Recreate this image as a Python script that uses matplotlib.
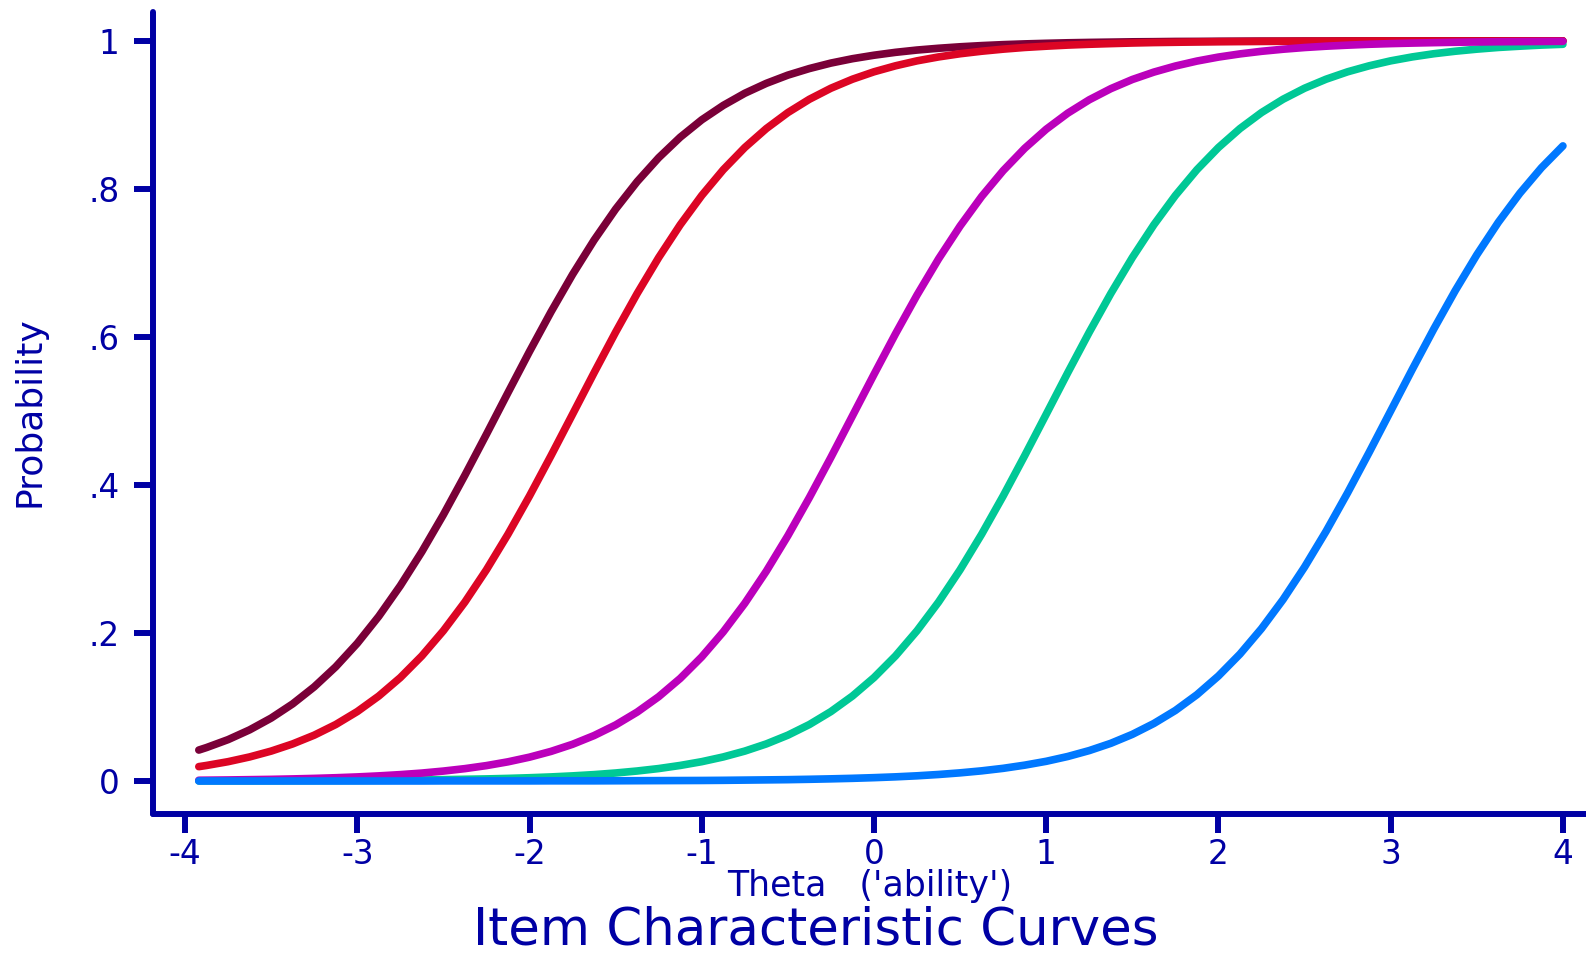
"""Item characteristic curves for five test items."""

import matplotlib
matplotlib.use("Agg")
import matplotlib.pyplot as plt

# Ability grid (rows of eight) and probability of a correct answer per item
theta = [-3.92, -3.875, -3.75, -3.625, -3.5, -3.375, -3.25, -3.125,
         -3.0, -2.875, -2.75, -2.625, -2.5, -2.375, -2.25, -2.125,
         -2.0, -1.875, -1.75, -1.625, -1.5, -1.375, -1.25, -1.125,
         -1.0, -0.875, -0.75, -0.625, -0.5, -0.375, -0.25, -0.125,
         0.0, 0.125, 0.25, 0.375, 0.5, 0.625, 0.75, 0.875,
         1.0, 1.125, 1.25, 1.375, 1.5, 1.625, 1.75, 1.875,
         2.0, 2.125, 2.25, 2.375, 2.5, 2.625, 2.75, 2.875,
         3.0, 3.125, 3.25, 3.375, 3.5, 3.625, 3.75, 3.875,
         4.0]

item_1 = [0.0418, 0.0452, 0.0559, 0.0691, 0.0850, 0.1042, 0.1272, 0.1543,
          0.1860, 0.2225, 0.2639, 0.3098, 0.3598, 0.4132, 0.4685, 0.5247,
          0.5803, 0.6339, 0.6844, 0.7308, 0.7727, 0.8098, 0.8421, 0.8698,
          0.8933, 0.9128, 0.9292, 0.9426, 0.9537, 0.9626, 0.9700, 0.9759,
          0.9806, 0.9845, 0.9876, 0.9900, 0.9920, 0.9936, 0.9949, 0.9959,
          0.9967, 0.9974, 0.9979, 0.9983, 0.9987, 0.9989, 0.9992, 0.9993,
          0.9995, 0.9996, 0.9997, 0.9997, 0.9998, 0.9998, 0.9999, 0.9999,
          0.9999, 0.9999, 1.0, 1.0, 1.0, 1.0, 1.0, 1.0,
          1.0]
item_2 = [0.0194, 0.0210, 0.0261, 0.0325, 0.0404, 0.0501, 0.0619, 0.0763,
          0.0938, 0.1148, 0.1397, 0.1690, 0.2030, 0.2418, 0.2854, 0.3334,
          0.3851, 0.4396, 0.4955, 0.5516, 0.6064, 0.6586, 0.7072, 0.7515,
          0.7911, 0.8259, 0.8559, 0.8815, 0.9031, 0.9211, 0.9360, 0.9482,
          0.9582, 0.9663, 0.9730, 0.9783, 0.9826, 0.9860, 0.9888, 0.9911,
          0.9928, 0.9943, 0.9954, 0.9963, 0.9971, 0.9977, 0.9981, 0.9985,
          0.9988, 0.9990, 0.9992, 0.9994, 0.9995, 0.9996, 0.9997, 0.9998,
          0.9998, 0.9998, 0.9999, 0.9999, 0.9999, 0.9999, 1.0, 1.0,
          1.0]
item_3 = [0.0010, 0.0011, 0.0014, 0.0018, 0.0022, 0.0028, 0.0035, 0.0044,
          0.0055, 0.0069, 0.0086, 0.0107, 0.0134, 0.0167, 0.0208, 0.0259,
          0.0322, 0.0400, 0.0496, 0.0614, 0.0757, 0.0931, 0.1139, 0.1386,
          0.1677, 0.2015, 0.2401, 0.2835, 0.3314, 0.3830, 0.4373, 0.4933,
          0.5493, 0.6042, 0.6566, 0.7054, 0.7498, 0.7897, 0.8246, 0.8548,
          0.8806, 0.9023, 0.9204, 0.9354, 0.9478, 0.9578, 0.9660, 0.9727,
          0.9781, 0.9824, 0.9859, 0.9887, 0.9910, 0.9928, 0.9942, 0.9954,
          0.9963, 0.9970, 0.9976, 0.9981, 0.9985, 0.9988, 0.9990, 0.9992,
          0.9994]
item_4 = [0.0001, 0.0002, 0.0002, 0.0002, 0.0003, 0.0004, 0.0005, 0.0006,
          0.0007, 0.0009, 0.0011, 0.0014, 0.0018, 0.0023, 0.0028, 0.0035,
          0.0044, 0.0055, 0.0069, 0.0086, 0.0108, 0.0135, 0.0168, 0.0210,
          0.0261, 0.0325, 0.0404, 0.0501, 0.0619, 0.0763, 0.0938, 0.1148,
          0.1397, 0.1690, 0.2030, 0.2418, 0.2854, 0.3334, 0.3851, 0.4396,
          0.4955, 0.5516, 0.6064, 0.6586, 0.7072, 0.7515, 0.7911, 0.8259,
          0.8559, 0.8815, 0.9031, 0.9211, 0.9360, 0.9482, 0.9582, 0.9663,
          0.9730, 0.9783, 0.9826, 0.9860, 0.9888, 0.9911, 0.9928, 0.9943,
          0.9954]
item_5 = [0.0, 0.0, 0.0, 0.0, 0.0, 0.0, 0.0, 0.0,
          0.0, 0.0, 0.0, 0.0, 0.0001, 0.0001, 0.0001, 0.0001,
          0.0001, 0.0002, 0.0002, 0.0002, 0.0003, 0.0004, 0.0005, 0.0006,
          0.0007, 0.0009, 0.0012, 0.0015, 0.0018, 0.0023, 0.0029, 0.0036,
          0.0045, 0.0056, 0.0070, 0.0088, 0.0110, 0.0137, 0.0171, 0.0214,
          0.0266, 0.0331, 0.0411, 0.0509, 0.0630, 0.0777, 0.0953, 0.1166,
          0.1419, 0.1715, 0.2059, 0.2451, 0.2891, 0.3374, 0.3894, 0.4440,
          0.5, 0.5560, 0.6106, 0.6626, 0.7109, 0.7549, 0.7941, 0.8285,
          0.8581]

x_ticks = [-4, -3, -2, -1, 0, 1, 2, 3, 4]
y_ticks = [0, 0.2, 0.4, 0.6, 0.8, 1.0]
y_tick_labels = ["0", ".2", ".4", ".6", ".8", "1"]

NAVY = "#0000a4"

# drawing order: later curves sit on top
CURVES = [
    (item_1, "#7a0038"),
    (item_2, "#dc0524"),
    (item_4, "#00c896"),
    (item_3, "#bb00bb"),
    (item_5, "#0078ff"),
]

W, H = 1586, 955


def style_axes(ax):
    """Stata-like axes: thick navy left/bottom lines, outward ticks."""
    for side in ("top", "right"):
        ax.spines[side].set_visible(False)
    for side in ("left", "bottom"):
        ax.spines[side].set_color(NAVY)
        ax.spines[side].set_linewidth(4.3)
        ax.spines[side].set_capstyle("round")

    ax.set_xlim(-4.186, 4.134)
    ax.set_ylim(-0.0446, 1.039)
    ax.set_xticks(x_ticks)
    ax.set_xticklabels([str(t) for t in x_ticks])
    ax.set_yticks(y_ticks)
    ax.set_yticklabels(y_tick_labels)
    ax.tick_params(axis="both", direction="out", length=14, width=4.3,
                   color=NAVY, labelcolor=NAVY, labelsize=23.5)
    ax.tick_params(axis="x", pad=3.5)
    ax.tick_params(axis="y", pad=10)


def main():
    plt.rcParams["font.family"] = ["DejaVu Sans"]
    plt.rcParams["axes.unicode_minus"] = False

    fig = plt.figure(figsize=(W / 100, H / 100), dpi=100)
    ax = fig.add_axes([153 / W, 1 - 814 / H, (W - 153) / W, (814 - 12) / H])
    ax.patch.set_visible(False)

    for probs, color in CURVES:
        ax.plot(theta, probs, color=color, linewidth=5.5,
                solid_capstyle="round", solid_joinstyle="round", clip_on=False)

    style_axes(ax)

    fig.text(30 / W, 1 - 412 / H, "Probability", rotation=90, color=NAVY,
             fontsize=26, ha="center", va="center")
    fig.text(870 / W, 1 - 896 / H, "Theta   ('ability')", color=NAVY,
             fontsize=25, ha="center", va="baseline")
    fig.text(816 / W, 1 - 944 / H, "Item Characteristic Curves", color=NAVY,
             fontsize=37, ha="center", va="baseline")

    fig.savefig("out.png", dpi=100, facecolor="white")
    plt.close(fig)


if __name__ == "__main__":
    main()
